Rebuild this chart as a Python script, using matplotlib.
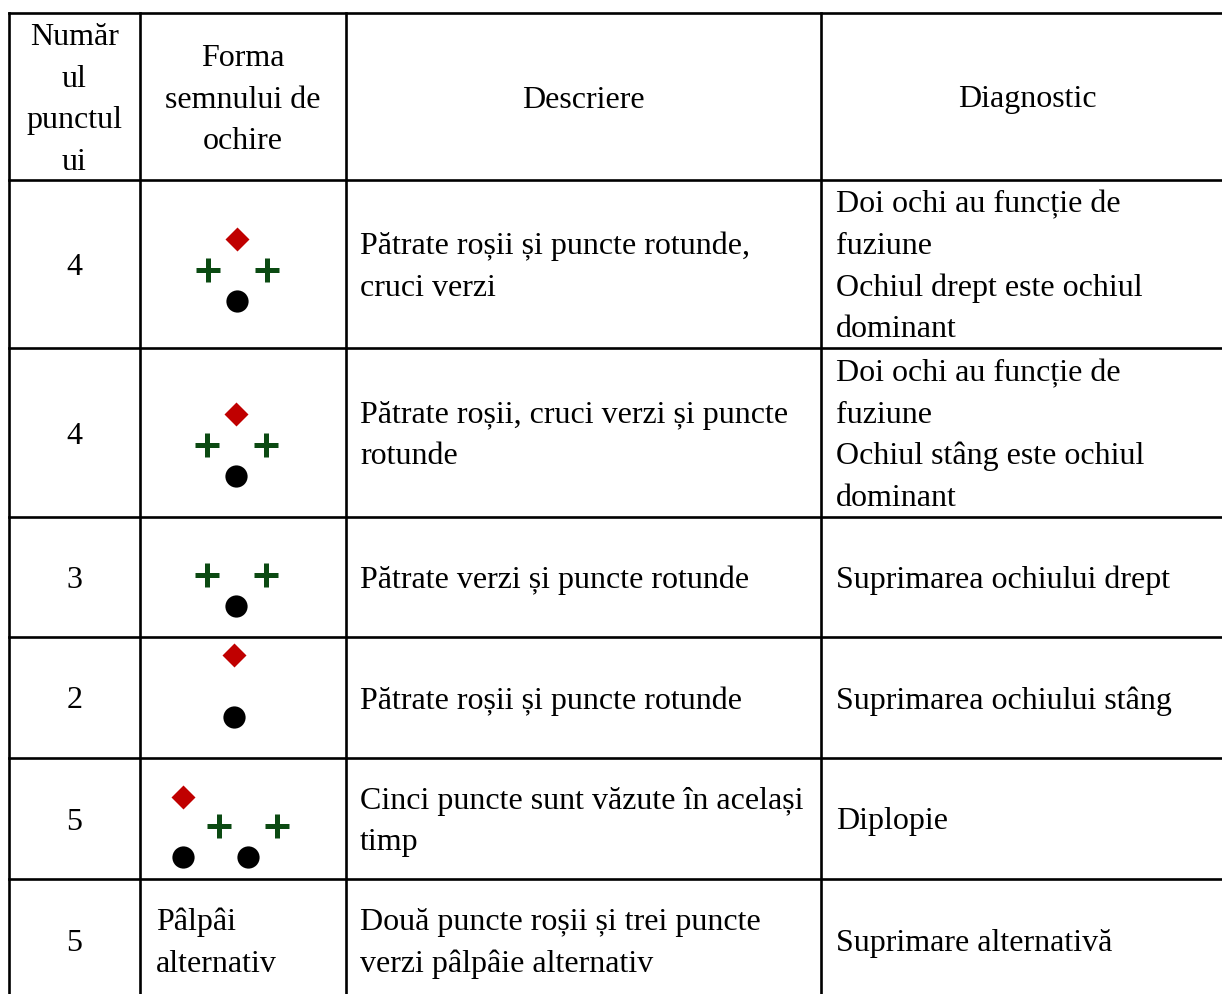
import matplotlib.pyplot as plt

# table content
headers = ["Număr\nul\npunctul\nui", "Forma\nsemnului de\nochire", "Descriere", "Diagnostic"]
numbers = ["4", "4", "3", "2", "5", "5"]
forma_text = [None, None, None, None, None, "Pâlpâi\nalternativ"]
descriere = [
    "Pătrate roșii și puncte rotunde,\ncruci verzi",
    "Pătrate roșii, cruci verzi și puncte\nrotunde",
    "Pătrate verzi și puncte rotunde",
    "Pătrate roșii și puncte rotunde",
    "Cinci puncte sunt văzute în același\ntimp",
    "Două puncte roșii și trei puncte\nverzi pâlpâie alternativ",
]
diagnostic = [
    "Doi ochi au funcție de\nfuziune\nOchiul drept este ochiul\ndominant",
    "Doi ochi au funcție de\nfuziune\nOchiul stâng este ochiul\ndominant",
    "Suprimarea ochiului drept",
    "Suprimarea ochiului stâng",
    "Diplopie",
    "Suprimare alternativă",
]

# sign shapes in local units (x: cross spacing / 2, y: row step)
diamonds = [[(0, -1)], [(0, -1)], [], [(0, -1)], [(-2.2, -0.95)], []]
crosses = [[(-1, 0), (1, 0)], [(-1, 0), (1, 0)], [(-1, 0), (1, 0)], [],
           [(-0.98, 0), (0.98, 0)], []]
circles = [[(0, 1)], [(0, 1)], [(0, 1)], [(0, 1)], [(-2.2, 1), (0, 1)], []]

# layout (pixels)
col_x = [9, 140, 346, 821, 1233]
row_y = [13, 180, 348, 517, 637, 758, 879, 1001]
sign_anchor = [(237, 270), (236, 445), (236, 575), (234, 686), (248, 826), None]
ux, uy = 29.5, 31.0
line_h = 41.5
fs = 23
font = "Liberation Serif"

fig = plt.figure(figsize=(12.22, 9.94), dpi=100)
ax = fig.add_axes([0, 0, 1, 1])
ax.set_xlim(0, 1222)
ax.set_ylim(994, 0)
ax.axis("off")

lw = 1.9
for y in row_y[:-1]:
    ax.plot([col_x[0], 1222], [y, y], color="black", lw=lw, solid_capstyle="projecting")
for x in col_x[:-1]:
    ax.plot([x, x], [row_y[0], 994], color="black", lw=lw, solid_capstyle="projecting")


def put(x, yc, text, ha):
    lines = text.split("\n")
    n = len(lines)
    for i, s in enumerate(lines):
        yb = yc + 11 + (i - (n - 1) / 2) * line_h
        ax.text(x, yb, s, ha=ha, va="baseline", fontsize=fs, family=font, color="black")


# header
for j, h in enumerate(headers):
    put((col_x[j] + col_x[j + 1]) / 2, (row_y[0] + row_y[1]) / 2, h, "center")

for i in range(len(numbers)):
    yc = (row_y[i + 1] + row_y[i + 2]) / 2
    put((col_x[0] + col_x[1]) / 2, yc, numbers[i], "center")
    put(col_x[2] + 14, yc, descriere[i], "left")
    put(col_x[3] + 15, yc, diagnostic[i], "left")
    if forma_text[i]:
        put(col_x[1] + 16, yc, forma_text[i], "left")
    if sign_anchor[i] is None:
        continue
    cx, cy = sign_anchor[i]
    for dx, dy in diamonds[i]:
        ax.plot(cx + dx * ux, cy + dy * uy, marker="D", ms=12, color="#c00000", mec="none")
    for dx, dy in crosses[i]:
        ax.plot(cx + dx * ux, cy + dy * uy, marker="+", ms=17.5, mew=3.6, color="#0b4a12")
    for dx, dy in circles[i]:
        ax.plot(cx + dx * ux, cy + dy * uy, marker="o", ms=16, color="black", mec="none")

fig.savefig("out.png", dpi=100)
